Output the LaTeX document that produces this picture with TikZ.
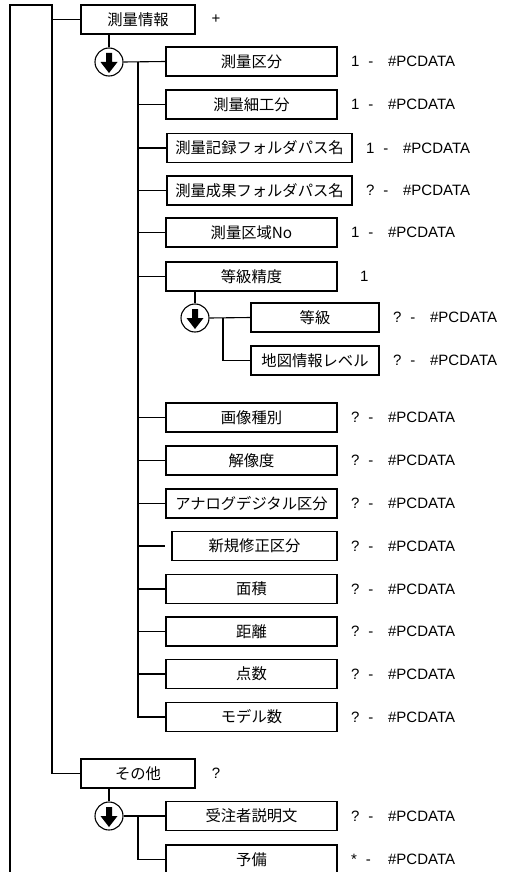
\documentclass[tikz,border=0pt]{standalone}
\usepackage{fontspec}
\setmainfont{Liberation Sans}
\newfontfamily\jp{Noto Sans CJK JP}
\begin{document}
\begin{tikzpicture}[x=1pt,y=-1pt,line width=1.1pt,
  box/.style={draw,minimum height=29pt,inner sep=0pt,font=\jp\fontsize{15.3}{15}\selectfont},
  circ/.style={draw,circle,minimum size=28pt,inner sep=0pt},
  lbl/.style={anchor=west,inner sep=0pt,font=\fontsize{15}{15}\selectfont},
  conn/.style={line width=1.1pt}]
\useasboundingbox (0,0) rectangle (506,872);
\clip (0,0) rectangle (506,872);
\newcommand\arrowcirc[3]{%
  \node[circ] (#1) at (#2,#3) {};
  \fill (#2-3,#3-9) -- (#2+3,#3-9) -- (#2+3,#3) -- (#2+8.5,#3) -- (#2,#3+11)
        -- (#2-8.5,#3) -- (#2-3,#3) -- cycle;}
% top level
\node[box,minimum width=114pt] (top) at (138,19.5) {測量情報};
\node[lbl,anchor=center] (ltop) at (216,19) {+};
\node[box,minimum width=114pt] (other) at (138,773.5) {その他};
\node[lbl,anchor=center] (lother) at (216,773) {?};
\coordinate (o1) at (10,880);
\coordinate (o2) at (10,5);
\coordinate (o3) at (52,5);
\draw[conn] (o1) -- (o2) -- (o3) |- (top.west);
\draw[conn] (o3) |- (other.west);
% first group
\arrowcirc{c1}{109}{62}
\draw[conn] (top.south -| c1) -- (c1.north);
\coordinate (t1) at (138,62);
\node[box,minimum width=171pt] (b1) at (251.5,61.5) {測量区分};
\node[box,minimum width=171pt] (b2) at (251.5,104.5) {測量細工分};
\node[box,minimum width=185pt] (b3) at (259.5,148) {測量記録フォルダパス名};
\node[box,minimum width=185pt] (b4) at (259.5,190.5) {測量成果フォルダパス名};
\node[box,minimum width=171pt] (b5) at (251.5,232.5) {測量区域No};
\node[box,minimum width=171pt] (b6) at (251.5,276.5) {等級精度};
\node[box,minimum width=171pt] (b9) at (251.5,417.5) {画像種別};
\node[box,minimum width=171pt] (b10) at (251.5,460.5) {解像度};
\node[box,minimum width=171pt] (b11) at (251.5,503.5) {アナログデジタル区分};
\node[box,minimum width=165pt] (b12) at (254.5,546) {新規修正区分};
\node[box,minimum width=171pt] (b13) at (251.5,589) {面積};
\node[box,minimum width=171pt] (b14) at (251.5,631.5) {距離};
\node[box,minimum width=171pt] (b15) at (251.5,674) {点数};
\node[box,minimum width=171pt] (b16) at (251.5,717) {モデル数};
\draw[conn] (c1.east) -- (b1.west);
\foreach \b in {b2,b3,b4,b5,b6,b9,b10,b11,b13,b14,b15,b16}
  \draw[conn] (t1) |- (\b.west);
\draw[conn] (t1) |- ([xshift=-6pt]b12.west);
% sub group
\arrowcirc{c2}{195}{318}
\draw[conn] (b6.south -| c2) -- (c2.north);
\coordinate (t2) at (223,318);
\node[box,minimum width=128pt] (b7) at (315,317.5) {等級};
\node[box,minimum width=128pt] (b8) at (315,360.5) {地図情報レベル};
\draw[conn] (c2.east) -- (b7.west);
\draw[conn] (t2) |- (b8.west);
% other group
\arrowcirc{c3}{109}{816}
\draw[conn] (other.south -| c3) -- (c3.north);
\coordinate (t3) at (138,816);
\node[box,minimum width=171pt] (b17) at (251.5,816) {受注者説明文};
\node[box,minimum width=171pt] (b18) at (251.5,859.5) {予備};
\draw[conn] (c3.east) -- (b17.west);
\draw[conn] (t3) |- (b18.west);
% labels
\foreach \b/\c in {b1/1,b2/1,b3/1,b5/1,b4/?,b9/?,b10/?,b11/?,b12/?,b13/?,b14/?,b15/?,b16/?,b7/?,b8/?,b17/?,b18/*}{
  \node[lbl] (\b card) at ([xshift=13pt]\b.east) {\c\hspace{9pt}-};
  \node[lbl] (\b type) at ([xshift=50pt]\b.east) {\#PCDATA};
}
\node[lbl] (b6card) at ([xshift=22pt]b6.east) {1};
\end{tikzpicture}
\end{document}
